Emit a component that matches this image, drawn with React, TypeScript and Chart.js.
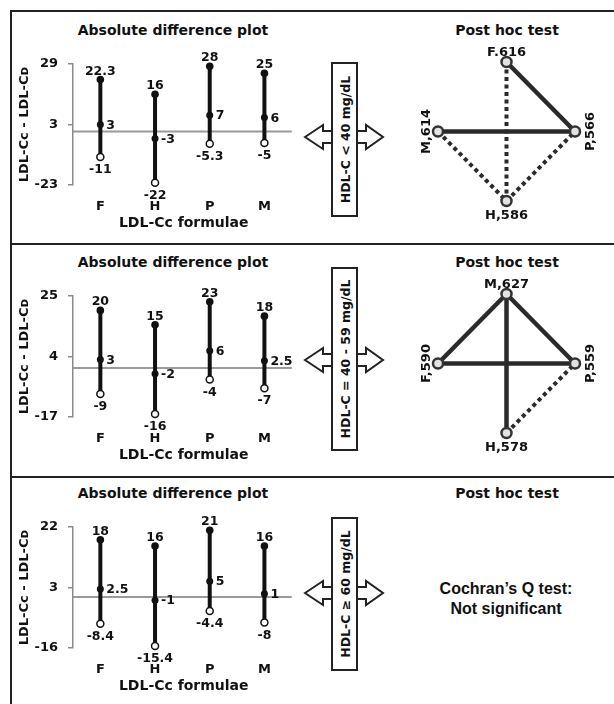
import React, { useEffect, useRef } from "react";
import { Chart, registerables } from "chart.js";

Chart.register(...registerables);

const FONT = "'DejaVu Sans', sans-serif";
const INK = "#111";

// ---------- data ----------
const formulae = ["F", "H", "P", "M"];

// HDL-C < 40 mg/dL
const p1Max = [22.3, 16, 28, 25];
const p1Mean = [3, -3, 7, 6];
const p1Min = [-11, -22, -5.3, -5];
const p1Ticks = [-23, 3, 29];

// HDL-C = 40 - 59 mg/dL
const p2Max = [20, 15, 23, 18];
const p2Mean = [3, -2, 6, 2.5];
const p2Min = [-9, -16, -4, -7];
const p2Ticks = [-17, 4, 25];

// HDL-C >= 60 mg/dL
const p3Max = [18, 16, 21, 16];
const p3Mean = [2.5, -1, 5, 1];
const p3Min = [-8.4, -15.4, -4.4, -8];
const p3Ticks = [-16, 3, 22];

const groupLabels = ["HDL-C < 40 mg/dL", "HDL-C = 40 - 59 mg/dL", "HDL-C \u2265 60 mg/dL"];

// Post hoc graphs: nodes ordered top, right, bottom, left
const ph1Names = ["F", "P", "H", "M"];
const ph1Labels = ["F.616", "P,566", "H,586", "M,614"];
const ph1Edges: [string, string, boolean][] = [
  ["F", "P", true],
  ["M", "P", true],
  ["F", "H", false],
  ["M", "H", false],
  ["H", "P", false],
];
const ph2Names = ["M", "P", "H", "F"];
const ph2Labels = ["M,627", "P,559", "H,578", "F,590"];
const ph2Edges: [string, string, boolean][] = [
  ["M", "F", true],
  ["M", "P", true],
  ["F", "P", true],
  ["M", "H", true],
  ["H", "P", false],
];

const xTitle = "LDL-Cc formulae";
const yTitle = "LDL-Cc - LDL-C\u1D05";
const diffTitle = "Absolute difference plot";
const postTitle = "Post hoc test";
const cochran = ["Cochran\u2019s Q test:", "Not significant"];

// ---------- layout ----------
const panelTop = [0, 232, 463];
const boxSpan = [
  [63, 216, 137],
  [268, 450, 360],
  [518, 670, 593],
];

const fmt = (v: number) => String(v);

function DiffChart({ maxV, meanV, minV, ticks, top }: any) {
  const ref = useRef<HTMLCanvasElement>(null);
  useEffect(() => {
    const datasets: any[] = formulae.map((_, i) => ({
      data: [
        { x: i, y: minV[i] },
        { x: i, y: meanV[i] },
        { x: i, y: maxV[i] },
      ],
      borderColor: INK,
      borderWidth: 4,
      pointRadius: [3.5, 3.5, 3.8],
      pointBackgroundColor: ["#fff", INK, INK],
      pointBorderColor: INK,
      pointBorderWidth: [1.5, 0, 0],
      clip: false,
    }));
    datasets.push({
      data: [
        { x: -0.5, y: 0 },
        { x: 3.5, y: 0 },
      ],
      borderColor: "#9a9a9a",
      borderWidth: 2,
      pointRadius: 0,
    });
    const labels = {
      id: "diffLabels",
      afterDatasetsDraw(chart: any) {
        const { ctx, scales } = chart;
        const x = scales.x,
          y = scales.y;
        ctx.save();
        ctx.font = `bold 12.5px ${FONT}`;
        ctx.fillStyle = INK;
        formulae.forEach((_, i) => {
          const px = x.getPixelForValue(i);
          ctx.textAlign = "center";
          ctx.textBaseline = "alphabetic";
          ctx.fillText(fmt(maxV[i]), px, y.getPixelForValue(maxV[i]) - 5);
          ctx.fillText(fmt(minV[i]), px, y.getPixelForValue(minV[i]) + 16);
          ctx.textAlign = "left";
          ctx.textBaseline = "middle";
          ctx.fillText(fmt(meanV[i]), px + 6, y.getPixelForValue(meanV[i]) + 1);
        });
        ctx.restore();
      },
    };
    const chart = new Chart(ref.current as HTMLCanvasElement, {
      type: "line",
      data: { datasets },
      plugins: [labels],
      options: {
        animation: false,
        responsive: false,
        layout: { padding: { top: 64, left: 0, right: 4, bottom: 0 } },
        plugins: { legend: { display: false }, tooltip: { enabled: false } },
        scales: {
          x: {
            type: "linear",
            min: -0.5,
            max: 3.55,
            afterBuildTicks: (s: any) => {
              s.ticks = formulae.map((_, i) => ({ value: i }));
            },
            afterFit: (s: any) => {
              s.height = 47;
            },
            grid: { display: false, drawTicks: false },
            border: { display: false },
            ticks: {
              autoSkip: false,
              maxRotation: 0,
              padding: 14,
              color: INK,
              font: { family: FONT, size: 13, weight: "bold" },
              callback: (_v: any, i: number) => formulae[i],
            },
            title: {
              display: true,
              text: xTitle,
              color: INK,
              font: { family: FONT, size: 14, weight: "bold" },
              padding: { top: 0, bottom: 0 },
            },
          },
          y: {
            type: "linear",
            min: ticks[0],
            max: ticks[2],
            afterBuildTicks: (s: any) => {
              s.ticks = ticks.map((v: number) => ({ value: v }));
            },
            afterFit: (s: any) => {
              s.width = 73;
            },
            grid: {
              drawOnChartArea: false,
              drawTicks: true,
              tickLength: 5,
              color: "#8a8a8a",
              lineWidth: 1.5,
            },
            border: { display: true, color: "#8a8a8a", width: 1.5 },
            ticks: {
              autoSkip: false,
              padding: 10,
              color: INK,
              font: { family: FONT, size: 13, weight: "bold" },
              callback: (v: any) => String(v),
            },
            title: {
              display: true,
              text: yTitle,
              color: INK,
              font: { family: FONT, size: 13, weight: "bold" },
              padding: { top: 17, bottom: 0 },
            },
          },
        },
      } as any,
    });
    return () => chart.destroy();
  }, []);
  return (
    <canvas
      ref={ref}
      width={300}
      height={232}
      style={{ position: "absolute", left: 0, top, width: 300, height: 232 }}
    />
  );
}

const nodePos = [
  [0, 1],
  [1, 0],
  [0, -1],
  [-1, 0],
];

function PostHocChart({ names, nodeLabels, edges, top }: any) {
  const ref = useRef<HTMLCanvasElement>(null);
  useEffect(() => {
    const posOf = (n: string) => nodePos[names.indexOf(n)];
    const datasets: any[] = [
      {
        data: names.map((_: string, k: number) => ({ x: nodePos[k][0], y: nodePos[k][1] })),
        showLine: false,
        pointRadius: 5,
        pointBorderWidth: 2.5,
        pointBorderColor: "#333",
        pointBackgroundColor: "#e2e2e2",
        clip: false,
      },
    ];
    // solid edges above dotted ones
    const sorted = [...edges].sort((a, b) => Number(b[2]) - Number(a[2]));
    sorted.forEach(([a, b, solid]: [string, string, boolean]) => {
      const pa = posOf(a),
        pb = posOf(b);
      datasets.push({
        data: [
          { x: pa[0], y: pa[1] },
          { x: pb[0], y: pb[1] },
        ],
        borderColor: "#2a2a2a",
        borderWidth: solid ? 4.5 : 4,
        borderDash: solid ? [] : [4, 3.5],
        borderCapStyle: "butt",
        pointRadius: 0,
        clip: false,
      });
    });
    const labels = {
      id: "nodeLabels",
      afterDatasetsDraw(chart: any) {
        const { ctx, scales } = chart;
        ctx.save();
        ctx.font = `bold 13px ${FONT}`;
        ctx.fillStyle = INK;
        nodeLabels.forEach((lab: string, k: number) => {
          const px = scales.x.getPixelForValue(nodePos[k][0]);
          const py = scales.y.getPixelForValue(nodePos[k][1]);
          if (k === 0) {
            ctx.textAlign = "center";
            ctx.textBaseline = "alphabetic";
            ctx.fillText(lab, px, py - 6);
          } else if (k === 2) {
            ctx.textAlign = "center";
            ctx.textBaseline = "alphabetic";
            ctx.fillText(lab, px, py + 18);
          } else {
            ctx.save();
            ctx.translate(k === 1 ? px + 16 : px - 11, py);
            ctx.rotate(-Math.PI / 2);
            ctx.textAlign = "center";
            ctx.textBaseline = "middle";
            ctx.fillText(lab, 0, 0);
            ctx.restore();
          }
        });
        ctx.restore();
      },
    };
    const chart = new Chart(ref.current as HTMLCanvasElement, {
      type: "line",
      data: { datasets },
      plugins: [labels],
      options: {
        animation: false,
        responsive: false,
        layout: { padding: { top: 62, left: 38, right: 39, bottom: 31 } },
        plugins: { legend: { display: false }, tooltip: { enabled: false } },
        scales: {
          x: { type: "linear", min: -1, max: 1, display: false },
          y: { type: "linear", min: -1, max: 1, display: false },
        },
      } as any,
    });
    return () => chart.destroy();
  }, []);
  return (
    <canvas
      ref={ref}
      width={214}
      height={232}
      style={{ position: "absolute", left: 400, top, width: 214, height: 232 }}
    />
  );
}

function Frame() {
  return (
    <svg
      width={614}
      height={704}
      style={{ position: "absolute", left: 0, top: 0 }}
    >
      <line x1={11} y1={11} x2={11} y2={704} stroke="#222" strokeWidth={2} />
      {[11, 244, 477].map((y) => (
        <line key={y} x1={10} y1={y} x2={614} y2={y} stroke="#222" strokeWidth={2} />
      ))}
      {boxSpan.map(([t, b, c], i) => {
        const pts = [
          [305, c],
          [323, c - 12],
          [323, c - 6],
          [366, c - 6],
          [366, c - 12],
          [383, c],
          [366, c + 12],
          [366, c + 6],
          [323, c + 6],
          [323, c + 12],
        ]
          .map((p) => p.join(","))
          .join(" ");
        const cy = (t + b) / 2;
        return (
          <g key={i}>
            <polygon points={pts} fill="#fff" stroke="#222" strokeWidth={2} strokeLinejoin="miter" />
            <rect x={332} y={t} width={25} height={b - t} fill="#fff" stroke="#222" strokeWidth={2} />
            <text
              x={345}
              y={cy}
              transform={`rotate(-90 345 ${cy})`}
              textAnchor="middle"
              dominantBaseline="central"
              fontFamily={FONT}
              fontWeight="bold"
              fontSize={12.5}
              fill={INK}
            >
              {groupLabels[i]}
            </text>
          </g>
        );
      })}
    </svg>
  );
}

function Label({ text, cx, cy, size, family }: any) {
  return (
    <div
      style={{
        position: "absolute",
        left: cx - 150,
        top: cy - 10,
        width: 300,
        height: 20,
        lineHeight: "20px",
        textAlign: "center",
        fontFamily: family || FONT,
        fontWeight: "bold",
        fontSize: size,
        color: INK,
        whiteSpace: "nowrap",
      }}
    >
      {text}
    </div>
  );
}

export default function App() {
  const panels = [
    [p1Max, p1Mean, p1Min, p1Ticks],
    [p2Max, p2Mean, p2Min, p2Ticks],
    [p3Max, p3Mean, p3Min, p3Ticks],
  ];
  return (
    <div
      style={{
        position: "absolute",
        left: 0,
        top: 0,
        width: 614,
        height: 704,
        background: "#fff",
        overflow: "hidden",
      }}
    >
      <Frame />
      {panels.map(([mx, mn, mi, tk], i) => (
        <React.Fragment key={i}>
          <Label text={diffTitle} cx={173} cy={panelTop[i] + 30} size={14} />
          <Label text={postTitle} cx={507} cy={panelTop[i] + 30} size={14} />
          <DiffChart maxV={mx} meanV={mn} minV={mi} ticks={tk} top={panelTop[i]} />
        </React.Fragment>
      ))}
      <PostHocChart names={ph1Names} nodeLabels={ph1Labels} edges={ph1Edges} top={panelTop[0]} />
      <PostHocChart names={ph2Names} nodeLabels={ph2Labels} edges={ph2Edges} top={panelTop[1]} />
      <Label text={cochran[0]} cx={506} cy={panelTop[2] + 126} size={16} family="'Liberation Sans', Arial, sans-serif" />
      <Label text={cochran[1]} cx={506} cy={panelTop[2] + 146} size={16} family="'Liberation Sans', Arial, sans-serif" />
    </div>
  );
}
